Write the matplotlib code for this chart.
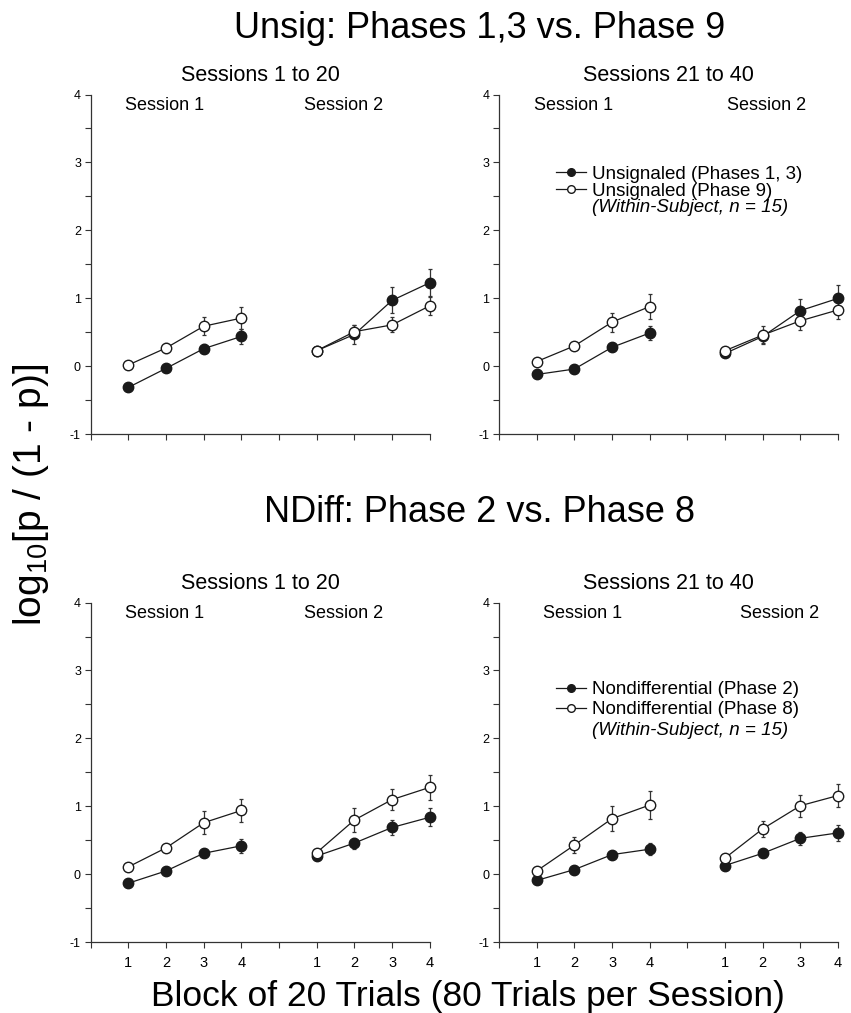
import matplotlib.pyplot as plt
from matplotlib.lines import Line2D
import numpy as np

plt.rcParams['font.family'] = ['Liberation Sans', 'DejaVu Sans']

blocks = [1, 2, 3, 4]
block_labels = ['', '1', '2', '3', '4', '', '1', '2', '3', '4']
y_ticks = [-1, -0.5, 0, 0.5, 1, 1.5, 2, 2.5, 3, 3.5, 4]
y_labels = ['-1', '', '0', '', '1', '', '2', '', '3', '', '4']

# Unsig, sessions 1 to 20 (session 1 block 1-4, then session 2 block 1-4)
unsig_a_filled = [-0.31, -0.03, 0.26, 0.44, 0.23, 0.47, 0.97, 1.23]
unsig_a_filled_err = [0.03, 0.04, 0.07, 0.11, 0.05, 0.14, 0.19, 0.20]
unsig_a_open = [0.02, 0.27, 0.59, 0.71, 0.23, 0.51, 0.61, 0.89]
unsig_a_open_err = [0.03, 0.07, 0.13, 0.16, 0.05, 0.10, 0.11, 0.13]

# Unsig, sessions 21 to 40
unsig_b_filled = [-0.12, -0.04, 0.28, 0.49, 0.19, 0.44, 0.82, 1.00]
unsig_b_filled_err = [0.03, 0.03, 0.06, 0.10, 0.04, 0.10, 0.17, 0.19]
unsig_b_open = [0.07, 0.30, 0.65, 0.88, 0.23, 0.46, 0.67, 0.83]
unsig_b_open_err = [0.03, 0.04, 0.14, 0.18, 0.04, 0.13, 0.13, 0.14]

# NDiff, sessions 1 to 20
ndiff_a_filled = [-0.13, 0.05, 0.31, 0.42, 0.27, 0.46, 0.69, 0.84]
ndiff_a_filled_err = [0.03, 0.03, 0.05, 0.10, 0.05, 0.08, 0.11, 0.13]
ndiff_a_open = [0.11, 0.39, 0.76, 0.94, 0.32, 0.80, 1.10, 1.28]
ndiff_a_open_err = [0.03, 0.06, 0.17, 0.17, 0.05, 0.17, 0.16, 0.18]

# NDiff, sessions 21 to 40
ndiff_b_filled = [-0.09, 0.07, 0.29, 0.37, 0.13, 0.31, 0.53, 0.61]
ndiff_b_filled_err = [0.03, 0.03, 0.06, 0.09, 0.03, 0.04, 0.10, 0.12]
ndiff_b_open = [0.05, 0.43, 0.82, 1.02, 0.24, 0.67, 1.01, 1.16]
ndiff_b_open_err = [0.03, 0.12, 0.18, 0.20, 0.04, 0.12, 0.16, 0.17]

dark = '#1a1a1a'


def draw_series(ax, values, errors, filled):
    face = dark if filled else 'white'
    for s in range(2):
        xs = np.array(blocks) + 5 * s
        ys = values[4 * s:4 * s + 4]
        es = errors[4 * s:4 * s + 4]
        eb = ax.errorbar(xs, ys, yerr=es, fmt='none', ecolor='#333333',
                         elinewidth=0.9, capsize=1.6, capthick=0.9, zorder=2)
        for art in eb.lines[1] + eb.lines[2]:
            art.set_clip_on(False)
        ax.plot(xs, ys, color=dark, lw=0.9, marker='o', markersize=7.5,
                markerfacecolor=face, markeredgecolor=dark, markeredgewidth=1.0,
                zorder=3 if filled else 4, clip_on=False)


def style_axes(ax, bottom):
    ax.set_xlim(0, 9)
    ax.set_ylim(-1, 4)
    for side in ['top', 'right']:
        ax.spines[side].set_visible(False)
    for side in ['left', 'bottom']:
        ax.spines[side].set_color('#333333')
        ax.spines[side].set_linewidth(0.9)
    ax.set_yticks(y_ticks)
    ax.set_yticklabels(y_labels, fontsize=9)
    ax.set_xticks(range(10))
    if bottom:
        ax.set_xticklabels(block_labels, fontsize=10.5)
    else:
        ax.set_xticklabels([''] * 10)
    ax.tick_params(direction='out', length=4, width=0.8, color='#333333', pad=3)
    ax.tick_params(axis='x', pad=6)


def add_legend(ax, label_filled, label_open, y0, spacing, y_note):
    handles = [
        Line2D([], [], color=dark, lw=0.9, marker='o', markersize=5.5,
               markerfacecolor=dark, markeredgecolor=dark),
        Line2D([], [], color=dark, lw=0.9, marker='o', markersize=5.5,
               markerfacecolor='white', markeredgecolor=dark),
    ]
    ax.legend(handles, [label_filled, label_open], loc='upper left',
              bbox_to_anchor=(1.5, y0), bbox_transform=ax.transData,
              frameon=False, fontsize=13.5, handlelength=1.65, handletextpad=0.28,
              labelspacing=spacing, borderpad=0, borderaxespad=0)
    ax.text(2.46, y_note, '(Within-Subject, n = 15)', fontsize=13.5,
            style='italic', ha='left', va='center')


fig = plt.figure(figsize=(8.51, 10.13), dpi=100)
left_x = [0.1066, 0.5864]
width = 0.3984
rows = [0.5713, 0.0698]
height = 0.3354

panels = [
    (0, 0, unsig_a_filled, unsig_a_filled_err, unsig_a_open, unsig_a_open_err, 'Sessions 1 to 20'),
    (0, 1, unsig_b_filled, unsig_b_filled_err, unsig_b_open, unsig_b_open_err, 'Sessions 21 to 40'),
    (1, 0, ndiff_a_filled, ndiff_a_filled_err, ndiff_a_open, ndiff_a_open_err, 'Sessions 1 to 20'),
    (1, 1, ndiff_b_filled, ndiff_b_filled_err, ndiff_b_open, ndiff_b_open_err, 'Sessions 21 to 40'),
]
# where the "Session 1" / "Session 2" captions sit in each panel
session_label_x = {(0, 0): (1.97, 6.72), (0, 1): (1.99, 7.1),
                   (1, 0): (1.97, 6.72), (1, 1): (2.23, 7.45)}

axes = {}
for r, c, fv, fe, ov, oe, span in panels:
    ax = fig.add_axes([left_x[c], rows[r], width, height])
    axes[(r, c)] = ax
    draw_series(ax, fv, fe, True)
    draw_series(ax, ov, oe, False)
    style_axes(ax, bottom=(r == 1))
    ax.text(4.5, 4.2, span, fontsize=15.5, ha='center', va='baseline', clip_on=False)
    x1, x2 = session_label_x[(r, c)]
    ax.text(x1, 3.77, 'Session 1', fontsize=13, ha='center', va='baseline')
    ax.text(x2, 3.77, 'Session 2', fontsize=13, ha='center', va='baseline')

add_legend(axes[(0, 1)], 'Unsignaled (Phases 1, 3)', 'Unsignaled (Phase 9)', 2.955, 0.0, 2.33)
add_legend(axes[(1, 1)], 'Nondifferential (Phase 2)', 'Nondifferential (Phase 8)', 2.846, 0.16, 2.12)

fig.text(0.564, 1 - 38 / 1013, 'Unsig: Phases 1,3 vs. Phase 9', fontsize=26,
         ha='center', va='baseline')
fig.text(0.564, 1 - 522 / 1013, 'NDiff: Phase 2 vs. Phase 8', fontsize=26,
         ha='center', va='baseline')
fig.text(0.036, 1 - 495 / 1013, r'$\mathregular{log_{10}}$[p / (1 - p)]', fontsize=28,
         ha='center', va='center', rotation=90)
fig.text(0.55, 1 - 1006 / 1013, 'Block of 20 Trials (80 Trials per Session)', fontsize=25.5,
         ha='center', va='baseline')

fig.savefig('out.png', dpi=100, facecolor='white')
